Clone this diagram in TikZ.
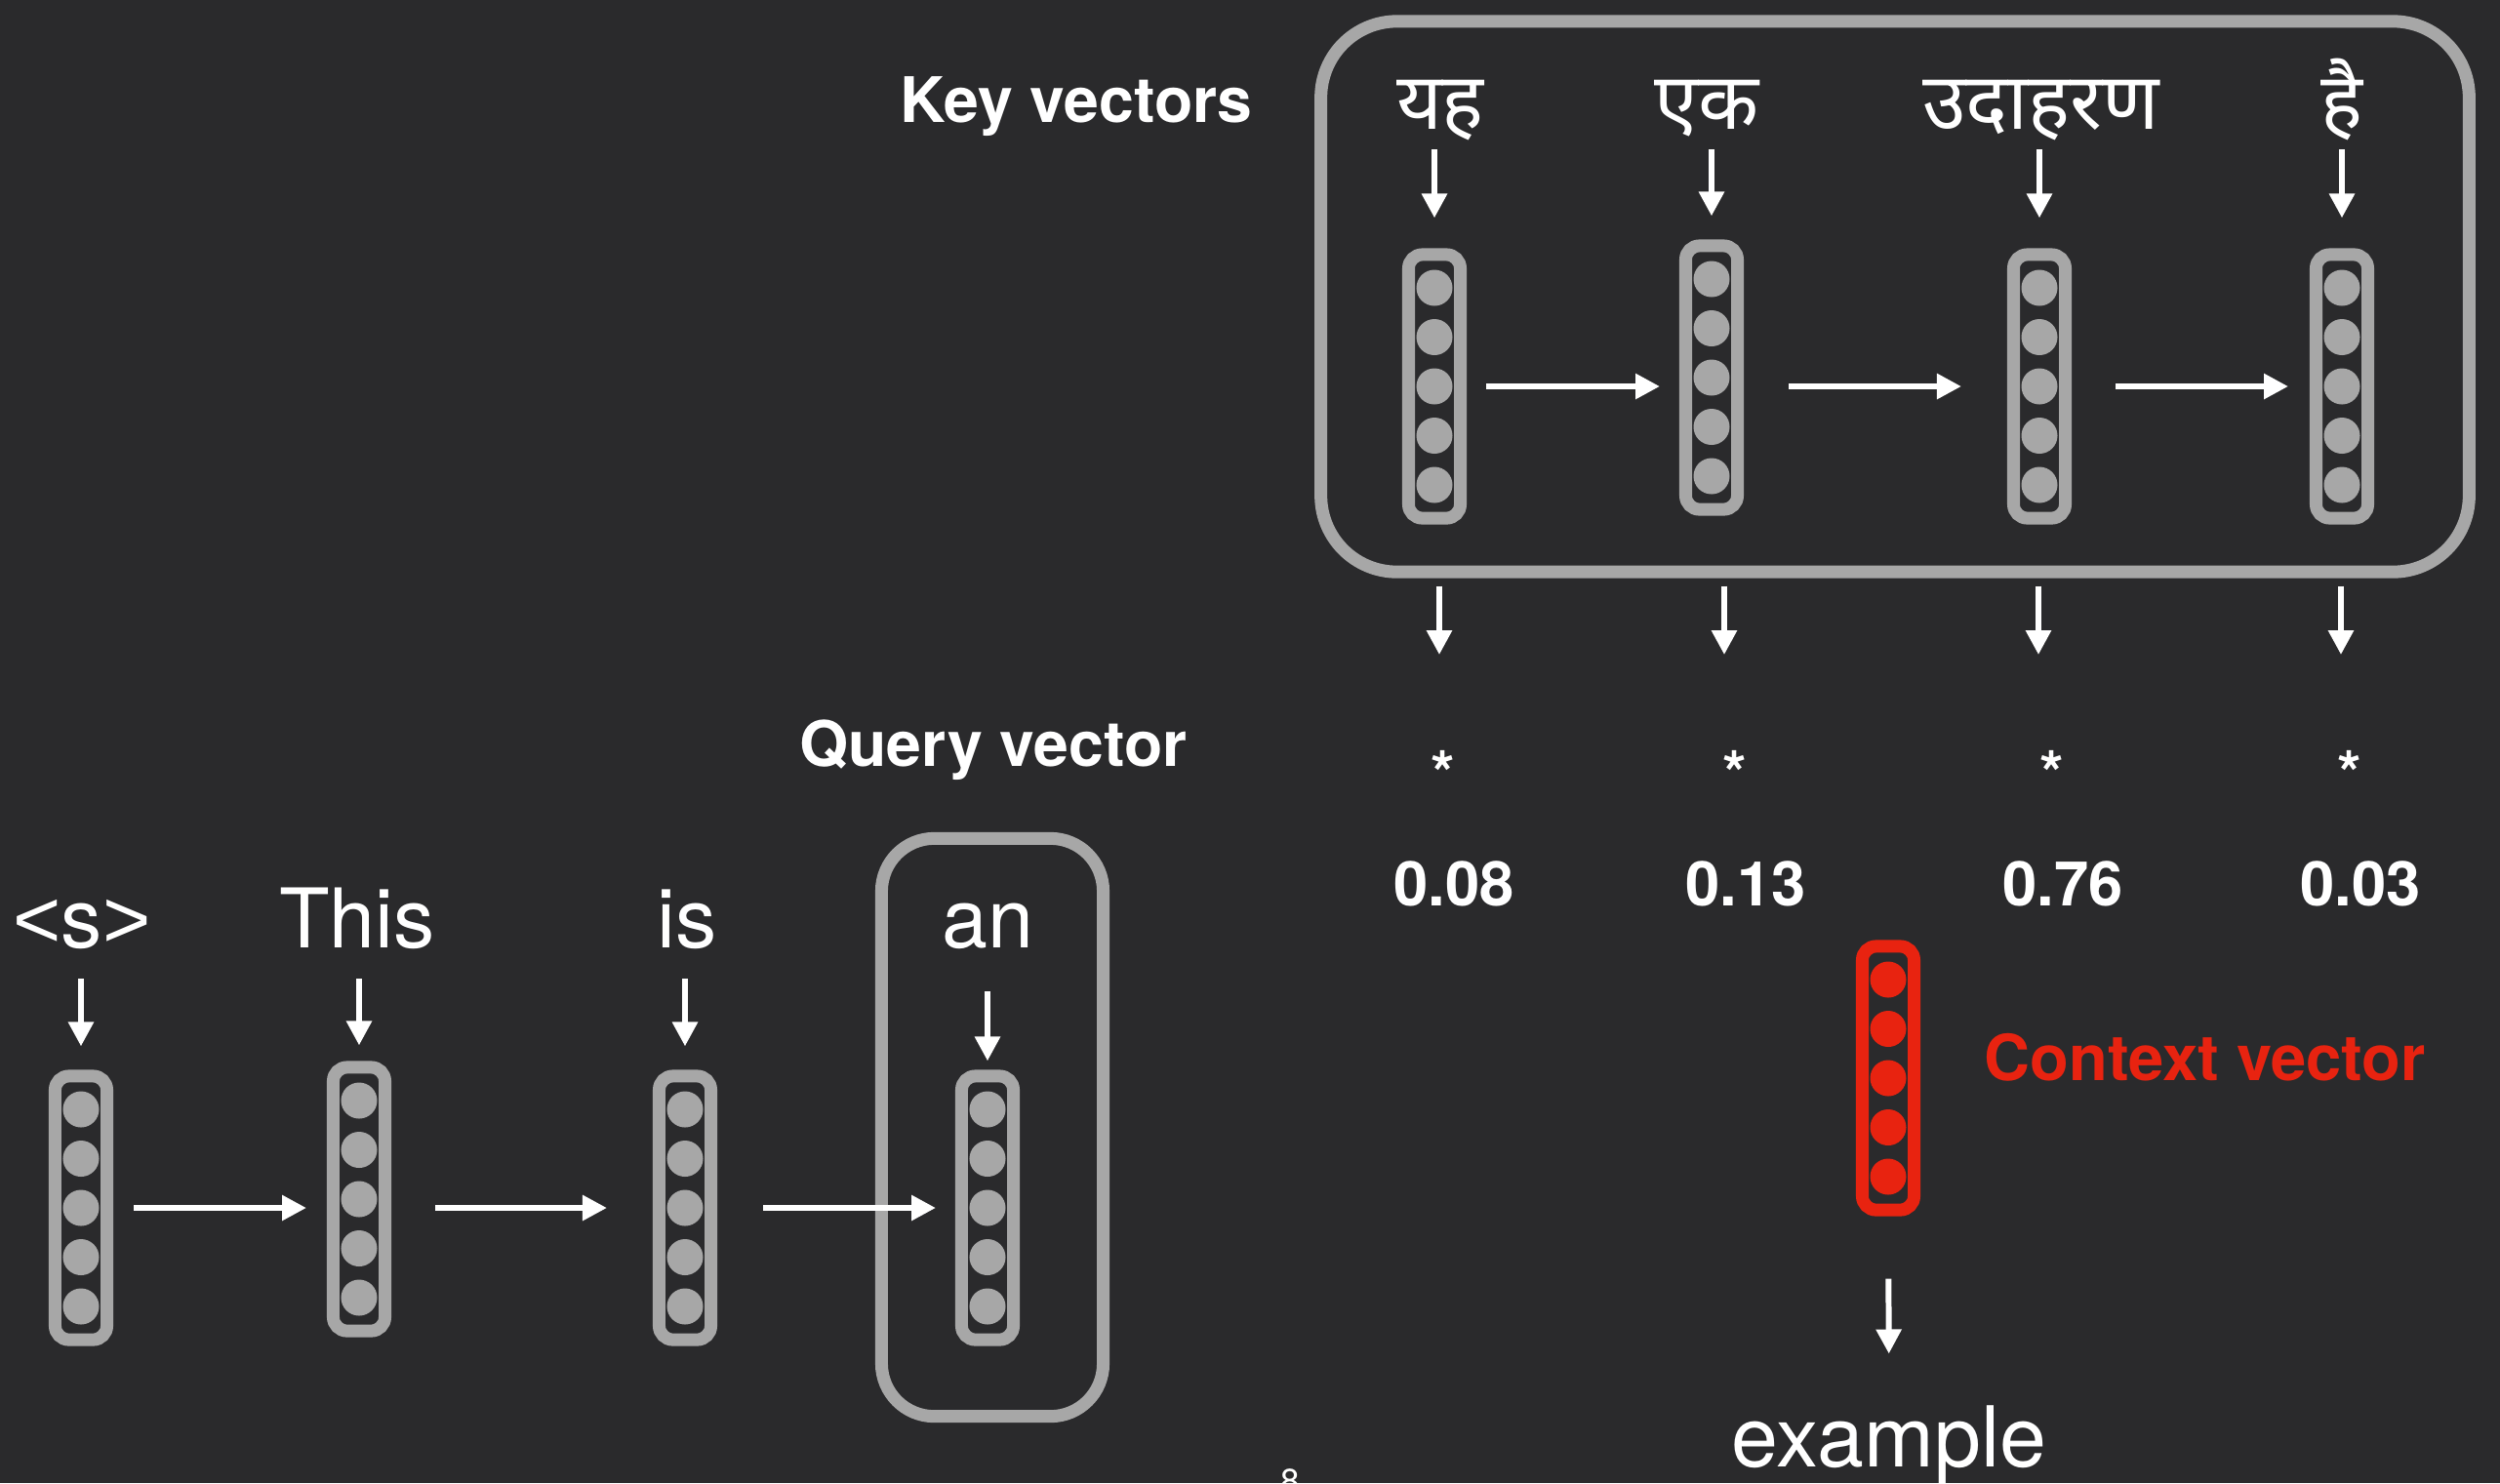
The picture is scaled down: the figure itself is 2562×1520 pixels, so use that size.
\documentclass[tikz,border=0pt]{standalone}
\usepackage{fontspec}
\setmainfont{TeX Gyre Heros}
\newfontfamily\hindi[Script=Devanagari]{Noto Sans}
\newfontfamily\arial{Liberation Sans}
\usetikzlibrary{arrows.meta, calc}
\definecolor{bg}{HTML}{2A2A2C}
\definecolor{vgray}{HTML}{A7A7A7}
\definecolor{ctxred}{HTML}{E82310}
\tikzset{
  vec/.style={draw=vgray, line width=3.7pt, rounded corners=4pt, minimum width=0.53cm,
              minimum height=2.7cm, inner sep=0pt, outer sep=0pt},
  frame/.style={draw=vgray, line width=3.7pt, inner sep=0pt, outer sep=0pt},
  word/.style={text=white, anchor=base, inner sep=0pt, font=\fontsize{24}{28}\selectfont},
  hword/.style={text=white, anchor=base, inner sep=0pt, font=\hindi\fontsize{23}{27}\selectfont},
  head/.style={text=white, anchor=base, inner sep=0pt, font=\fontsize{18.3}{21}\selectfont\bfseries},
  weight/.style={text=white, anchor=base, inner sep=0pt, font=\fontsize{18}{21}\selectfont\bfseries},
  arr/.style={-{Triangle[length=7.1pt, width=7.1pt]}, draw=white, line width=1.7pt},
}

\begin{document}
\begin{tikzpicture}[x=0.01cm, y=-0.01cm]
  \fill[bg] (0,0) rectangle (2562,1520);
  \useasboundingbox (0,0) rectangle (2562,1520);

  % encoder states (keys)
  \node[frame, rounded corners=0.78cm, minimum width=11.76cm, minimum height=5.64cm] (keys) at (1942,304) {};
  \node[head] (keylbl) at (1103,125) {Key vectors};
  \node[vec] (k1) at (1470,396) {};
  \node[vec] (k2) at (1754,387) {};
  \node[vec] (k3) at (2090,396) {};
  \node[vec] (k4) at (2400,396) {};
  \node[hword] (w1) at (1476,132) {यह};
  \node[hword] (w2) at (1749,132) {एक};
  \node[hword] (w3) at (2092,132) {उदाहरण};
  \node[hword] (w4) at (2400,132) {है};

  % decoder states (query)
  \node[frame, rounded corners=0.54cm, minimum width=2.27cm, minimum height=5.92cm] (qbox) at (1017,1155.5) {};
  \node[head] (qlbl) at (1018,785) {Query vector};
  \node[vec] (q1) at (83,1238) {};
  \node[vec] (q2) at (368,1229) {};
  \node[vec] (q3) at (702,1238) {};
  \node[vec] (q4) at (1012,1238) {};
  \node[word] (t1) at (84,971) {{\arial<}s{\arial>}};
  \node[word] (t2) at (366,971) {This};
  \node[word] (t3) at (704,971) {is};
  \node[word] (t4) at (1012,971) {an};

  \foreach \v in {k1,k2,k3,k4,q1,q2,q3,q4}
    \foreach \i in {-2,...,2}
      \fill[vgray] ($(\v)+(0,\i*50.5)$) circle (0.185cm);

  % recurrent links
  \draw[arr, shorten <=0.265cm, shorten >=0.265cm] (k1.east) -- (k1.east -| k2.west);
  \draw[arr, shorten <=0.525cm, shorten >=0.535cm] (k3.west -| k2.east) -- (k3.west);
  \draw[arr, shorten <=0.515cm, shorten >=0.285cm] (k3.east) -- (k4.west);
  \draw[arr, shorten <=0.275cm, shorten >=0.275cm] (q1.east) -- (q1.east -| q2.west);
  \draw[arr, shorten <=0.515cm, shorten >=0.535cm] (q3.west -| q2.east) -- (q3.west);
  \draw[arr, shorten <=0.535cm, shorten >=0.265cm] (q3.east) -- (q4.west);

  % inputs
  \foreach \i/\e in {1/0.375, 2/0.305, 3/0.375, 4/0.375}
    \draw[arr, shorten <=0.21cm, shorten >=\e cm] (k\i |- w\i.base) -- (k\i.north);
  \foreach \i/\s/\e in {1/0.32/0.305, 2/0.32/0.225, 3/0.32/0.305, 4/0.45/0.155}
    \draw[arr, shorten <=\s cm, shorten >=\e cm] (q\i |- t\i.base) -- (q\i.north);

  % attention weights
  \coordinate (d1) at (1475,671);
  \coordinate (d2) at (1767,671);
  \coordinate (d3) at (2089,671);
  \coordinate (d4) at (2399,671);
  \foreach \i in {1,...,4}
    \draw[arr, shorten <=0.145cm] (keys.south -| d\i) -- (d\i);
  \foreach \i/\x/\w in {1/1479/0.08, 2/1778/0.13, 3/2103/0.76, 4/2408/0.03} {
    \node[weight] (s\i) at (\x,815) {*};
    \node[weight] (p\i) at (\x+11,928) {\w};
  }

  % context
  \node[vec, draw=ctxred] (ctx) at (1935,1105) {};
  \foreach \i in {-2,...,2}
    \fill[ctxred] ($(ctx)+(0,\i*50.5)$) circle (0.185cm);
  \node[head, text=ctxred, anchor=base west, font=\fontsize{18.5}{21}\selectfont\bfseries] (ctxlbl) at (2033,1107) {Context vector};
  \node[word, font=\fontsize{24.5}{28}\selectfont] (ex) at (1936,1503) {example};
  \draw[arr, shorten <=0.705cm, shorten >=0.52cm] (ctx.south) -- (ex.north);

  \node[text=white, anchor=base, inner sep=0pt, font=\fontsize{10}{12}\selectfont] (pg) at (1322,1530) {8};
\end{tikzpicture}
\end{document}
